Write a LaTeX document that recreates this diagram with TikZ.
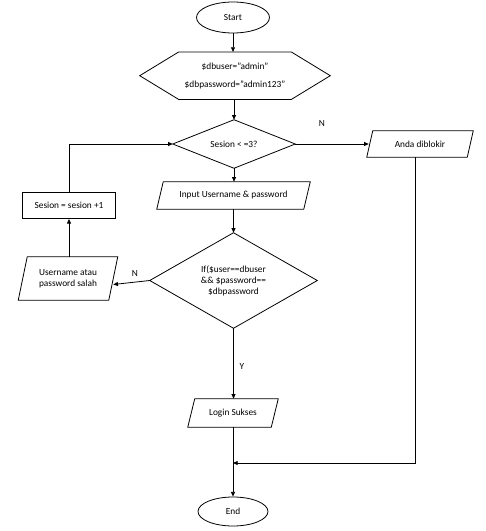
\documentclass[tikz,border=0pt]{standalone}
\usepackage{fontspec}
\setmainfont{Carlito}
\usetikzlibrary{arrows.meta,shapes.geometric}
\newcommand{\paragm}[2]{\draw[shapeline] ([xshift=#2*0.75pt]#1.north west) -- (#1.north east) -- ([xshift=-#2*0.75pt]#1.south east) -- (#1.south west) -- cycle;}
\newcommand{\diam}[1]{\draw[shapeline] (#1.north) -- (#1.east) -- (#1.south) -- (#1.west) -- cycle;}
\begin{document}
\begin{tikzpicture}[x=0.75pt,y=-0.75pt,
  sz/.style 2 args={minimum width=#1*0.75pt,minimum height=#2*0.75pt},
  txt/.style={inner sep=0pt,font=\fontsize{7}{8.25}\selectfont,align=center},
  shapeline/.style={line width=0.6pt},
  oval/.style={ellipse,draw,shapeline,txt},
  rbox/.style={rectangle,draw,shapeline,txt},
  lbl/.style={inner sep=0pt,font=\fontsize{7}{8.25}\selectfont},
  arr/.style={line width=0.6pt,-{Triangle[length=3.5pt,width=3pt]}},
  ln/.style={line width=0.6pt}]
\useasboundingbox (0,0) rectangle (485,531);
% nodes
\node[oval,sz={73}{31}] (start) at (233,17.5) {Start};
\node[txt,sz={190}{47}] (hex) at (235,75.7) {\$dbuser=”admin”\\[5.25pt]\$dbpassword=”admin123”};
\draw[shapeline] ([xshift=39*0.75pt]hex.north west) -- ([xshift=-39*0.75pt]hex.north east) -- (hex.east) -- ([xshift=-39*0.75pt]hex.south east) -- ([xshift=39*0.75pt]hex.south west) -- (hex.west) -- cycle;
\node[txt,sz={122}{48}] (d1) at (234,144) {Sesion < =3?};
\diam{d1}
\node[txt,sz={106}{26}] (anda) at (420,144) {Anda diblokir};
\paragm{anda}{6}
\node[txt,sz={153}{27}] (input) at (233.5,195.5) {Input Username \& password};
\paragm{input}{6.5}
\node[rbox,sz={93}{26}] (ses) at (69,205.5) {Sesion = sesion +1};
\node[txt,sz={167}{95}] (d2) at (233.5,280.5) {If(\$user==dbuser\\\&\& \$password==\\\$dbpassword};
\diam{d2}
\node[txt,sz={99}{43}] (user) at (68,278.5) {Username atau\\password salah};
\paragm{user}{9}
\node[txt,sz={90}{28}] (login) at (233,413) {Login Sukses};
\paragm{login}{7}
\node[oval,sz={70}{29}] (end) at (233,511.5) {End};
% labels
\node[lbl] (lN1) at (322,124) {N};
\node[lbl] (lN2) at (135,274) {N};
\node[lbl] (lY) at (242,367) {Y};
\coordinate (join) at (233,463);
% connectors
\draw[arr] (start.south) -- (hex.north -| start.south);
\draw[arr] (hex.south -| d1.north) -- (d1.north);
\draw[arr] (d1.east) -- ([xshift=2*0.75pt]anda.west);
\draw[arr] (d1.south) -- (input.north -| d1.south);
\draw[arr] (input.south -| d2.north) -- (d2.north);
\draw[arr] (d2.west) -- ([xshift=-4.5*0.75pt,yshift=-4.5pt]user.east);
\draw[arr] (user.north -| ses.south) -- (ses.south);
\draw[arr] (ses.north) |- (d1.west);
\draw[arr] (d2.south) -- (login.north -| d2.south);
\draw[arr] ([xshift=-5*0.75pt]anda.south) |- (join);
\draw[arr] (login.south) -- (end.north);
\end{tikzpicture}
\end{document}
